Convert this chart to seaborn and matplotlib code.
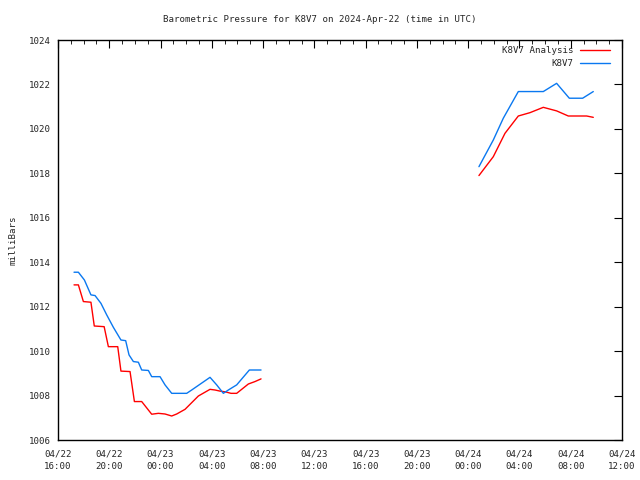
import pandas as pd
import numpy as np
import seaborn as sns
import matplotlib
matplotlib.use('Agg')
import matplotlib.pyplot as plt
import matplotlib.dates as mdates
from matplotlib.ticker import MultipleLocator
from matplotlib.lines import Line2D

# hours after 2024-04-22 16:00 UTC
obs_hours = [1.25, 1.59, 2.06, 2.57, 2.89, 3.35, 3.80, 4.32, 4.91, 5.28, 5.54, 5.88,
             6.27, 6.53, 7.05, 7.31, 7.96, 8.35, 8.87, 10.04, 10.43, 11.86, 12.38,
             12.90, 13.29, 13.94, 14.93, 15.84,
             32.84, 33.96, 34.74, 35.91, 37.86, 38.90, 39.89, 40.93, 41.76]
obs_mb = [1013.55, 1013.55, 1013.2, 1012.53, 1012.5, 1012.15, 1011.63, 1011.07, 1010.5,
          1010.47, 1009.83, 1009.53, 1009.5, 1009.15, 1009.13, 1008.85, 1008.85, 1008.48,
          1008.1, 1008.1, 1008.25, 1008.82, 1008.48, 1008.1, 1008.25, 1008.48, 1009.15,
          1009.15,
          1018.3, 1019.5, 1020.48, 1021.68, 1021.68, 1022.05, 1021.38, 1021.38, 1021.68]
obs_seg = [0] * 28 + [1] * 9

ana_hours = [1.25, 1.59, 1.98, 2.57, 2.83, 3.60, 3.93, 4.66, 4.91, 5.62, 5.96, 6.53,
             7.31, 7.83, 8.35, 8.87, 9.26, 9.91, 10.95, 11.86, 12.25, 12.64, 13.03,
             13.50, 13.94, 14.85, 15.37, 15.84,
             32.84, 33.96, 34.87, 35.91, 36.82, 37.86, 38.90, 39.81, 41.24, 41.76]
ana_mb = [1012.98, 1012.98, 1012.23, 1012.2, 1011.13, 1011.1, 1010.2, 1010.2, 1009.1,
          1009.08, 1007.73, 1007.73, 1007.16, 1007.2, 1007.17, 1007.08, 1007.17, 1007.38,
          1007.98, 1008.28, 1008.25, 1008.2, 1008.17, 1008.1, 1008.1, 1008.52, 1008.63,
          1008.75,
          1017.9, 1018.75, 1019.8, 1020.58, 1020.73, 1020.97, 1020.81, 1020.58, 1020.58,
          1020.52]
ana_seg = [0] * 28 + [1] * 10

RED = '#ff0000'
BLUE = '#0a78f0'

t0 = pd.Timestamp('2024-04-22 16:00')
obs = pd.DataFrame({'time': t0 + pd.to_timedelta(obs_hours, unit='h'), 'mb': obs_mb, 'seg': obs_seg})
ana = pd.DataFrame({'time': t0 + pd.to_timedelta(ana_hours, unit='h'), 'mb': ana_mb, 'seg': ana_seg})

sns.set_style('white')
plt.rcParams['font.family'] = ['DejaVu Sans Mono']
fs = 6.6

fig, ax = plt.subplots(figsize=(6.4, 4.8), dpi=100)
fig.subplots_adjust(left=58/640, right=622/640, top=1-40/480, bottom=1-440/480)

# units= keeps the two data runs apart so the gap stays open
sns.lineplot(data=ana, x='time', y='mb', units='seg', estimator=None, color=RED,
             lw=1, ax=ax, legend=False)
sns.lineplot(data=obs, x='time', y='mb', units='seg', estimator=None, color=BLUE,
             lw=1, ax=ax, legend=False)

ax.set_xlim(t0, t0 + pd.Timedelta(hours=44))
ax.set_ylim(1006, 1024)
ax.yaxis.set_major_locator(MultipleLocator(2))
ax.xaxis.set_major_locator(mdates.HourLocator(byhour=[0, 4, 8, 12, 16, 20]))
ax.xaxis.set_minor_locator(mdates.HourLocator())
ax.xaxis.set_major_formatter(mdates.DateFormatter('%m/%d\n%H:%M'))
ax.tick_params(which='both', direction='in', top=True, right=True, labelsize=fs, color='black')
ax.tick_params(which='major', length=6)
ax.tick_params(which='minor', length=3)
ax.tick_params(axis='y', pad=5)
ax.tick_params(axis='x', pad=7)
for lab in ax.get_xticklabels():
    lab.set_linespacing(1.5)
for s in ax.spines.values():
    s.set_color('black')
    s.set_linewidth(1)

fig.text(0.5, 1 - 19/480, 'Barometric Pressure for K8V7 on 2024-Apr-22 (time in UTC)',
         fontsize=fs, ha='center', va='center')
ax.set_ylabel('milliBars', fontsize=fs, labelpad=8)
ax.set_xlabel('')

handles = [Line2D([], [], color=RED, lw=1), Line2D([], [], color=BLUE, lw=1)]
leg = ax.legend(handles, ['K8V7 Analysis', 'K8V7'], loc='upper right',
                bbox_to_anchor=(0.979, 0.985), frameon=False,
                fontsize=fs, markerfirst=False, handlelength=3.3, handletextpad=0.7,
                borderaxespad=0, borderpad=0, labelspacing=0.45)
leg._legend_box.align = 'right'

fig.savefig('out.png', dpi=100)
